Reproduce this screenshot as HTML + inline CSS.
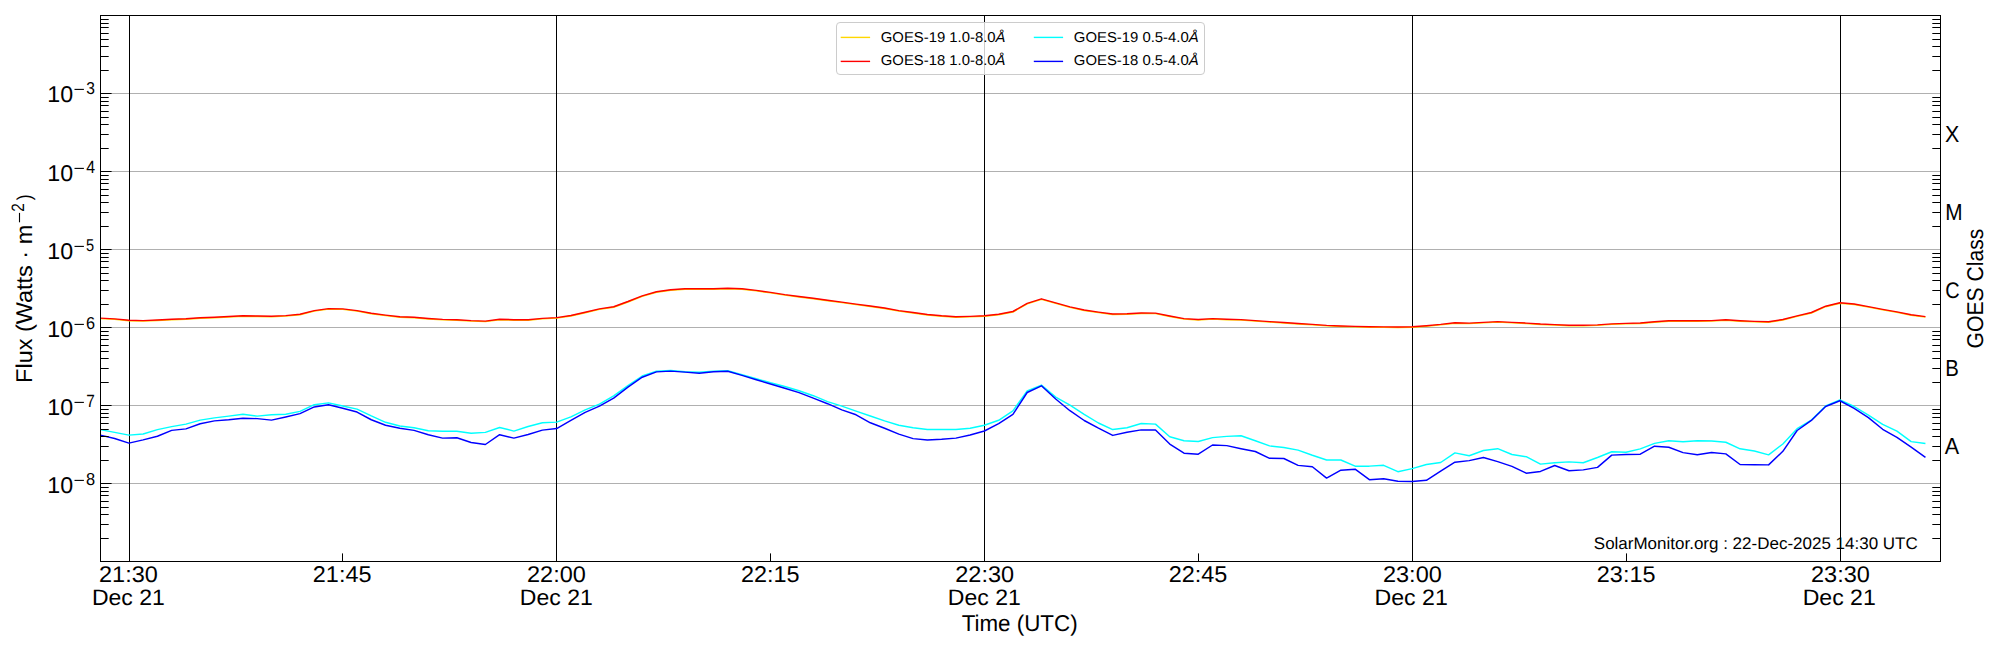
<!DOCTYPE html><html><head><meta charset="utf-8"><style>html,body{margin:0;padding:0;background:#fff;overflow:hidden;}svg{display:block;}text{font-family:"Liberation Sans",sans-serif;fill:#000;text-rendering:geometricPrecision;}</style></head><body>
<svg width="2000" height="650" viewBox="0 0 2000 650">
<rect width="2000" height="650" fill="#fff"/>
<line x1="100" y1="93.5" x2="1940" y2="93.5" stroke="#b0b0b0" stroke-width="1"/>
<line x1="100" y1="171.5" x2="1940" y2="171.5" stroke="#b0b0b0" stroke-width="1"/>
<line x1="100" y1="249.5" x2="1940" y2="249.5" stroke="#b0b0b0" stroke-width="1"/>
<line x1="100" y1="327.5" x2="1940" y2="327.5" stroke="#b0b0b0" stroke-width="1"/>
<line x1="100" y1="405.5" x2="1940" y2="405.5" stroke="#b0b0b0" stroke-width="1"/>
<line x1="100" y1="483.5" x2="1940" y2="483.5" stroke="#b0b0b0" stroke-width="1"/>
<line x1="129.5" y1="15" x2="129.5" y2="562" stroke="#000" stroke-width="1"/>
<line x1="556.5" y1="15" x2="556.5" y2="562" stroke="#000" stroke-width="1"/>
<line x1="984.5" y1="15" x2="984.5" y2="562" stroke="#000" stroke-width="1"/>
<line x1="1412.5" y1="15" x2="1412.5" y2="562" stroke="#000" stroke-width="1"/>
<line x1="1840.5" y1="15" x2="1840.5" y2="562" stroke="#000" stroke-width="1"/>
<path d="M100.38,318.60 L114.64,319.40 L128.90,320.80 L143.16,321.10 L157.42,320.55 L171.67,319.70 L185.93,319.20 L200.19,318.30 L214.45,317.80 L228.71,317.00 L242.97,316.25 L257.22,316.50 L271.48,316.70 L285.74,316.10 L300.00,314.80 L314.26,311.10 L328.52,309.10 L342.77,309.40 L357.03,311.10 L371.29,313.70 L385.55,315.60 L399.81,317.20 L414.07,317.80 L428.32,319.00 L442.58,319.90 L456.84,320.20 L471.10,321.10 L485.36,321.60 L499.62,319.80 L513.87,320.20 L528.13,320.20 L542.39,318.90 L556.65,318.10 L570.91,316.00 L585.17,312.75 L599.42,309.40 L613.68,307.20 L627.94,302.00 L642.20,296.40 L656.46,292.20 L670.72,290.25 L684.97,289.30 L699.23,289.30 L713.49,289.30 L727.75,288.70 L742.01,289.30 L756.27,290.90 L770.52,292.90 L784.78,295.10 L799.04,296.93 L813.30,298.70 L827.56,300.70 L841.81,302.60 L856.07,304.60 L870.33,306.50 L884.59,308.50 L898.85,311.10 L913.11,313.00 L927.36,315.00 L941.62,316.30 L955.88,317.20 L970.14,316.90 L984.40,316.30 L998.66,314.70 L1012.91,312.00 L1027.17,303.90 L1041.43,299.35 L1055.69,303.40 L1069.95,307.40 L1084.21,310.50 L1098.46,312.60 L1112.72,314.55 L1126.98,314.30 L1141.24,313.50 L1155.50,313.65 L1169.76,316.50 L1184.01,319.10 L1198.27,320.00 L1212.53,319.10 L1226.79,319.75 L1241.05,320.10 L1255.31,321.10 L1269.56,322.10 L1283.82,323.00 L1298.08,323.95 L1312.34,324.90 L1326.60,325.90 L1340.86,326.50 L1355.11,326.90 L1369.37,327.20 L1383.63,327.40 L1397.89,327.40 L1412.15,327.20 L1426.41,326.20 L1440.66,324.90 L1454.92,323.25 L1469.18,323.60 L1483.44,322.90 L1497.70,322.10 L1511.96,322.90 L1526.21,323.60 L1540.47,324.55 L1554.73,325.10 L1568.99,325.70 L1583.25,325.70 L1597.50,325.40 L1611.76,324.40 L1626.02,323.85 L1640.28,323.50 L1654.54,322.20 L1668.80,321.20 L1683.05,321.20 L1697.31,321.20 L1711.57,321.10 L1725.83,320.20 L1740.09,321.20 L1754.35,321.90 L1768.60,322.30 L1782.86,319.95 L1797.12,316.40 L1811.38,313.00 L1825.64,306.70 L1839.90,303.25 L1854.15,304.50 L1868.41,307.10 L1882.67,309.90 L1896.93,312.40 L1911.19,315.30 L1925.45,317.10" fill="none" stroke="#ffd700" stroke-width="1.45" stroke-linejoin="round"/>
<path d="M100.38,318.10 L114.64,318.90 L128.90,320.30 L143.16,320.60 L157.42,320.05 L171.67,319.20 L185.93,318.70 L200.19,317.80 L214.45,317.30 L228.71,316.50 L242.97,315.75 L257.22,316.00 L271.48,316.20 L285.74,315.60 L300.00,314.30 L314.26,310.60 L328.52,308.60 L342.77,308.90 L357.03,310.60 L371.29,313.20 L385.55,315.10 L399.81,316.70 L414.07,317.30 L428.32,318.50 L442.58,319.40 L456.84,319.70 L471.10,320.60 L485.36,321.10 L499.62,319.30 L513.87,319.70 L528.13,319.70 L542.39,318.40 L556.65,317.60 L570.91,315.50 L585.17,312.25 L599.42,308.90 L613.68,306.70 L627.94,301.50 L642.20,295.90 L656.46,291.70 L670.72,289.75 L684.97,288.80 L699.23,288.80 L713.49,288.80 L727.75,288.20 L742.01,288.80 L756.27,290.40 L770.52,292.40 L784.78,294.60 L799.04,296.43 L813.30,298.20 L827.56,300.20 L841.81,302.10 L856.07,304.10 L870.33,306.00 L884.59,308.00 L898.85,310.60 L913.11,312.50 L927.36,314.50 L941.62,315.80 L955.88,316.70 L970.14,316.40 L984.40,315.80 L998.66,314.20 L1012.91,311.50 L1027.17,303.40 L1041.43,298.85 L1055.69,302.90 L1069.95,306.90 L1084.21,310.00 L1098.46,312.10 L1112.72,314.05 L1126.98,313.80 L1141.24,313.00 L1155.50,313.15 L1169.76,316.00 L1184.01,318.60 L1198.27,319.50 L1212.53,318.60 L1226.79,319.25 L1241.05,319.60 L1255.31,320.60 L1269.56,321.60 L1283.82,322.50 L1298.08,323.45 L1312.34,324.40 L1326.60,325.40 L1340.86,326.00 L1355.11,326.40 L1369.37,326.70 L1383.63,326.90 L1397.89,326.90 L1412.15,326.70 L1426.41,325.70 L1440.66,324.40 L1454.92,322.75 L1469.18,323.10 L1483.44,322.40 L1497.70,321.60 L1511.96,322.40 L1526.21,323.10 L1540.47,324.05 L1554.73,324.60 L1568.99,325.20 L1583.25,325.20 L1597.50,324.90 L1611.76,323.90 L1626.02,323.35 L1640.28,323.00 L1654.54,321.70 L1668.80,320.70 L1683.05,320.70 L1697.31,320.70 L1711.57,320.60 L1725.83,319.70 L1740.09,320.70 L1754.35,321.40 L1768.60,321.80 L1782.86,319.45 L1797.12,315.90 L1811.38,312.50 L1825.64,306.20 L1839.90,302.75 L1854.15,304.00 L1868.41,306.60 L1882.67,309.40 L1896.93,311.90 L1911.19,314.80 L1925.45,316.60" fill="none" stroke="#ff0000" stroke-width="1.45" stroke-linejoin="round"/>
<path d="M100.38,429.65 L114.64,432.40 L128.90,435.15 L143.16,434.05 L157.42,429.65 L171.67,426.60 L185.93,424.15 L200.19,420.10 L214.45,417.90 L228.71,416.10 L242.97,414.25 L257.22,416.10 L271.48,414.80 L285.74,414.25 L300.00,411.40 L314.26,404.70 L328.52,402.90 L342.77,406.00 L357.03,409.10 L371.29,415.90 L385.55,422.30 L399.81,426.00 L414.07,427.80 L428.32,430.75 L442.58,431.30 L456.84,431.30 L471.10,433.20 L485.36,432.40 L499.62,427.45 L513.87,431.10 L528.13,426.50 L542.39,422.80 L556.65,422.15 L570.91,416.90 L585.17,409.80 L599.42,404.10 L613.68,395.90 L627.94,385.60 L642.20,376.00 L656.46,371.30 L670.72,370.50 L684.97,371.70 L699.23,372.30 L713.49,371.10 L727.75,370.80 L742.01,374.80 L756.27,378.70 L770.52,382.80 L784.78,386.50 L799.04,390.80 L813.30,395.70 L827.56,401.60 L841.81,406.15 L856.07,411.10 L870.33,416.00 L884.59,420.90 L898.85,425.20 L913.11,427.70 L927.36,429.50 L941.62,429.50 L955.88,429.50 L970.14,428.20 L984.40,425.20 L998.66,420.30 L1012.91,410.90 L1027.17,391.00 L1041.43,385.10 L1055.69,397.15 L1069.95,405.15 L1084.21,414.40 L1098.46,423.00 L1112.72,429.55 L1126.98,427.80 L1141.24,423.50 L1155.50,424.10 L1169.76,436.75 L1184.01,440.70 L1198.27,441.55 L1212.53,437.60 L1226.79,436.40 L1241.05,435.80 L1255.31,440.70 L1269.56,445.90 L1283.82,447.50 L1298.08,450.10 L1312.34,455.30 L1326.60,460.00 L1340.86,460.00 L1355.11,466.15 L1369.37,466.15 L1383.63,465.30 L1397.89,471.70 L1412.15,468.60 L1426.41,464.55 L1440.66,462.50 L1454.92,452.90 L1469.18,455.70 L1483.44,450.50 L1497.70,448.70 L1511.96,454.50 L1526.21,456.70 L1540.47,464.10 L1554.73,462.80 L1568.99,461.85 L1583.25,462.70 L1597.50,457.50 L1611.76,451.75 L1626.02,452.25 L1640.28,448.90 L1654.54,443.40 L1668.80,440.70 L1683.05,441.80 L1697.31,440.70 L1711.57,441.02 L1725.83,442.25 L1740.09,448.80 L1754.35,451.00 L1768.60,454.85 L1782.86,443.98 L1797.12,428.70 L1811.38,420.10 L1825.64,405.90 L1839.90,400.00 L1854.15,406.50 L1868.41,415.15 L1882.67,424.40 L1896.93,431.15 L1911.19,441.60 L1925.45,443.50" fill="none" stroke="#00ffff" stroke-width="1.45" stroke-linejoin="round"/>
<path d="M100.38,435.15 L114.64,438.45 L128.90,443.10 L143.16,439.90 L157.42,436.25 L171.67,430.40 L185.93,428.90 L200.19,423.80 L214.45,420.85 L228.71,419.75 L242.97,418.30 L257.22,418.65 L271.48,420.10 L285.74,417.00 L300.00,413.60 L314.26,406.93 L328.52,404.70 L342.77,408.20 L357.03,412.05 L371.29,419.75 L385.55,425.25 L399.81,428.20 L414.07,430.40 L428.32,434.80 L442.58,438.10 L456.84,437.70 L471.10,442.50 L485.36,444.50 L499.62,434.70 L513.87,438.12 L528.13,434.50 L542.39,430.15 L556.65,428.55 L570.91,420.30 L585.17,412.30 L599.42,406.15 L613.68,398.15 L627.94,387.10 L642.20,377.20 L656.46,371.90 L670.72,371.10 L684.97,372.10 L699.23,373.20 L713.49,371.80 L727.75,371.30 L742.01,375.40 L756.27,379.70 L770.52,384.00 L784.78,388.30 L799.04,392.60 L813.30,398.15 L827.56,403.70 L841.81,409.85 L856.07,414.80 L870.33,422.80 L884.59,428.30 L898.85,434.15 L913.11,438.62 L927.36,440.00 L941.62,439.25 L955.88,438.10 L970.14,435.05 L984.40,431.00 L998.66,423.60 L1012.91,414.40 L1027.17,392.50 L1041.43,385.80 L1055.69,399.00 L1069.95,410.70 L1084.21,420.50 L1098.46,428.20 L1112.72,435.40 L1126.98,432.30 L1141.24,429.90 L1155.50,429.90 L1169.76,444.10 L1184.01,453.20 L1198.27,454.20 L1212.53,445.00 L1226.79,445.60 L1241.05,448.70 L1255.31,451.50 L1269.56,458.30 L1283.82,458.50 L1298.08,465.40 L1312.34,466.70 L1326.60,478.10 L1340.86,470.20 L1355.11,469.20 L1369.37,479.70 L1383.63,478.70 L1397.89,481.20 L1412.15,481.50 L1426.41,480.30 L1440.66,471.10 L1454.92,462.20 L1469.18,460.60 L1483.44,457.50 L1497.70,461.60 L1511.96,466.32 L1526.21,473.20 L1540.47,471.45 L1554.73,465.50 L1568.99,470.70 L1583.25,469.85 L1597.50,467.40 L1611.76,455.10 L1626.02,454.50 L1640.28,454.20 L1654.54,446.20 L1668.80,447.30 L1683.05,452.60 L1697.31,454.80 L1711.57,452.58 L1725.83,453.88 L1740.09,464.50 L1754.35,464.70 L1768.60,464.90 L1782.86,451.32 L1797.12,430.50 L1811.38,420.45 L1825.64,406.50 L1839.90,400.75 L1854.15,408.40 L1868.41,417.60 L1882.67,429.30 L1896.93,437.30 L1911.19,447.15 L1925.45,457.40" fill="none" stroke="#0000ff" stroke-width="1.45" stroke-linejoin="round"/>
<path d="M100,93.5h11.6M100,70.5h8.7M1941,70.5h-8.7M100,56.5h8.7M1941,56.5h-8.7M100,46.5h8.7M1941,46.5h-8.7M100,39.5h8.7M1941,39.5h-8.7M100,33.5h8.7M1941,33.5h-8.7M100,27.5h8.7M1941,27.5h-8.7M100,23.5h8.7M1941,23.5h-8.7M100,19.5h8.7M1941,19.5h-8.7M100,171.5h11.6M100,148.5h8.7M1941,148.5h-8.7M100,134.5h8.7M1941,134.5h-8.7M100,124.5h8.7M1941,124.5h-8.7M100,117.5h8.7M1941,117.5h-8.7M100,111.5h8.7M1941,111.5h-8.7M100,105.5h8.7M1941,105.5h-8.7M100,101.5h8.7M1941,101.5h-8.7M100,97.5h8.7M1941,97.5h-8.7M100,249.5h11.6M100,226.5h8.7M1941,226.5h-8.7M100,212.5h8.7M1941,212.5h-8.7M100,202.5h8.7M1941,202.5h-8.7M100,195.5h8.7M1941,195.5h-8.7M100,189.5h8.7M1941,189.5h-8.7M100,183.5h8.7M1941,183.5h-8.7M100,179.5h8.7M1941,179.5h-8.7M100,175.5h8.7M1941,175.5h-8.7M100,327.5h11.6M100,304.5h8.7M1941,304.5h-8.7M100,290.5h8.7M1941,290.5h-8.7M100,280.5h8.7M1941,280.5h-8.7M100,273.5h8.7M1941,273.5h-8.7M100,267.5h8.7M1941,267.5h-8.7M100,261.5h8.7M1941,261.5h-8.7M100,257.5h8.7M1941,257.5h-8.7M100,253.5h8.7M1941,253.5h-8.7M100,405.5h11.6M100,382.5h8.7M1941,382.5h-8.7M100,368.5h8.7M1941,368.5h-8.7M100,358.5h8.7M1941,358.5h-8.7M100,351.5h8.7M1941,351.5h-8.7M100,345.5h8.7M1941,345.5h-8.7M100,339.5h8.7M1941,339.5h-8.7M100,335.5h8.7M1941,335.5h-8.7M100,331.5h8.7M1941,331.5h-8.7M100,483.5h11.6M100,460.5h8.7M1941,460.5h-8.7M100,446.5h8.7M1941,446.5h-8.7M100,436.5h8.7M1941,436.5h-8.7M100,429.5h8.7M1941,429.5h-8.7M100,423.5h8.7M1941,423.5h-8.7M100,417.5h8.7M1941,417.5h-8.7M100,413.5h8.7M1941,413.5h-8.7M100,409.5h8.7M1941,409.5h-8.7M100,538.5h8.7M1941,538.5h-8.7M100,524.5h8.7M1941,524.5h-8.7M100,514.5h8.7M1941,514.5h-8.7M100,507.5h8.7M1941,507.5h-8.7M100,501.5h8.7M1941,501.5h-8.7M100,495.5h8.7M1941,495.5h-8.7M100,491.5h8.7M1941,491.5h-8.7M100,487.5h8.7M1941,487.5h-8.7M342.5,561v-7.6M770.5,561v-7.6M1198.5,561v-7.6M1626.5,561v-7.6" stroke="#000" stroke-width="1" fill="none"/>
<rect x="100.5" y="15.5" width="1840" height="546" fill="none" stroke="#000" stroke-width="1"/>
<rect x="836.5" y="22.5" width="368" height="52" rx="3.5" fill="#fff" fill-opacity="0.8" stroke="#cccccc" stroke-width="1"/>
<line x1="840.7" y1="37.4" x2="870.1" y2="37.4" stroke="#ffd700" stroke-width="1.4"/>
<line x1="840.7" y1="61.4" x2="870.1" y2="61.4" stroke="#ff0000" stroke-width="1.4"/>
<line x1="1033.8" y1="37.4" x2="1063.1" y2="37.4" stroke="#00ffff" stroke-width="1.4"/>
<line x1="1033.8" y1="61.4" x2="1063.1" y2="61.4" stroke="#0000ff" stroke-width="1.4"/>
<rect x="74.5" y="88.85" width="9.4" height="1.1" fill="#000"/>
<rect x="74.5" y="167.85" width="9.4" height="1.1" fill="#000"/>
<rect x="74.5" y="245.85" width="9.4" height="1.1" fill="#000"/>
<rect x="74.5" y="323.85" width="9.4" height="1.1" fill="#000"/>
<rect x="74.5" y="401.85" width="9.4" height="1.1" fill="#000"/>
<rect x="74.5" y="479.85" width="9.4" height="1.1" fill="#000"/>
<rect x="18.95" y="212.9" width="1.1" height="9.4" fill="#000"/>
<text transform="translate(47.24,101.85) scale(1.0192,0.9988)" font-size="22.8">10</text>
<text transform="translate(86.13,93.82) scale(0.9159,1.0177)" font-size="17.0">3</text>
<text transform="translate(47.24,180.85) scale(1.0192,0.9988)" font-size="22.8">10</text>
<text transform="translate(86.18,173.12) scale(0.9364,1.0404)" font-size="17.0">4</text>
<text transform="translate(47.24,258.85) scale(1.0192,0.9988)" font-size="22.8">10</text>
<text transform="translate(86.10,250.82) scale(0.8568,1.0117)" font-size="17.0">5</text>
<text transform="translate(47.24,336.85) scale(1.0192,0.9988)" font-size="22.8">10</text>
<text transform="translate(86.06,328.79) scale(0.9557,1.0168)" font-size="17.0">6</text>
<text transform="translate(47.24,414.85) scale(1.0192,0.9988)" font-size="22.8">10</text>
<text transform="translate(86.32,407.18) scale(0.9067,1.0422)" font-size="17.0">7</text>
<text transform="translate(47.24,492.85) scale(1.0192,0.9988)" font-size="22.8">10</text>
<text transform="translate(86.07,484.82) scale(0.9661,1.0177)" font-size="17.0">8</text>
<text transform="translate(1945.05,142.01) scale(0.9400,1.0146)" font-size="22.8">X</text>
<text transform="translate(1945.23,220.01) scale(0.9118,1.0146)" font-size="22.8">M</text>
<text transform="translate(1945.18,297.81) scale(0.8760,0.9889)" font-size="22.8">C</text>
<text transform="translate(1945.27,376.00) scale(0.8929,1.0139)" font-size="22.8">B</text>
<text transform="translate(1944.70,454.00) scale(0.9440,1.0139)" font-size="22.8">A</text>
<text transform="translate(99.04,581.95) scale(1.0299,0.9969)" font-size="22.8">21:30</text>
<text transform="translate(312.84,581.98) scale(1.0270,0.9988)" font-size="22.8">21:45</text>
<text transform="translate(527.04,581.95) scale(1.0317,0.9969)" font-size="22.8">22:00</text>
<text transform="translate(741.04,581.98) scale(1.0270,0.9988)" font-size="22.8">22:15</text>
<text transform="translate(955.24,581.95) scale(1.0317,0.9969)" font-size="22.8">22:30</text>
<text transform="translate(1168.79,581.98) scale(1.0270,0.9988)" font-size="22.8">22:45</text>
<text transform="translate(1382.94,581.95) scale(1.0317,0.9969)" font-size="22.8">23:00</text>
<text transform="translate(1596.84,581.96) scale(1.0270,0.9975)" font-size="22.8">23:15</text>
<text transform="translate(1811.04,581.95) scale(1.0317,0.9969)" font-size="22.8">23:30</text>
<text transform="translate(91.95,604.76) scale(1.0088,0.9785)" font-size="22.8">Dec 21</text>
<text transform="translate(519.85,604.76) scale(1.0088,0.9785)" font-size="22.8">Dec 21</text>
<text transform="translate(947.85,604.76) scale(1.0102,0.9785)" font-size="22.8">Dec 21</text>
<text transform="translate(1374.54,604.76) scale(1.0146,0.9785)" font-size="22.8">Dec 21</text>
<text transform="translate(1802.65,604.76) scale(1.0117,0.9785)" font-size="22.8">Dec 21</text>
<text transform="translate(961.67,630.60) scale(0.9812,1.0000)" font-size="22.8">Time (UTC)</text>
<text transform="translate(1593.81,548.80) scale(1.0124,1.0000)" font-size="16.8">SolarMonitor.org : 22-Dec-2025 14:30 UTC</text>
<text transform="translate(880.82,41.80) scale(1.0421,1.0000)" font-size="14.25">GOES-19 1.0-8.0<tspan font-style="italic">Å</tspan></text>
<text transform="translate(880.82,64.70) scale(1.0421,1.0000)" font-size="14.25">GOES-18 1.0-8.0<tspan font-style="italic">Å</tspan></text>
<text transform="translate(1073.82,41.80) scale(1.0438,1.0000)" font-size="14.25">GOES-19 0.5-4.0<tspan font-style="italic">Å</tspan></text>
<text transform="translate(1073.82,64.70) scale(1.0438,1.0000)" font-size="14.25">GOES-18 0.5-4.0<tspan font-style="italic">Å</tspan></text>
<text transform="translate(1983.00,348.47) rotate(-90) scale(0.9266,1.0000)" font-size="22.8">GOES Class</text>
<text transform="translate(32.00,382.88) rotate(-90) scale(1.0286,1.0000)" font-size="22.8">Flux (Watts · m</text>
<text transform="translate(24.10,211.63) rotate(-90) scale(0.9045,1.0495)" font-size="17.0">2</text>
<text transform="translate(30.62,200.25) rotate(-90) scale(0.7557,0.8804)" font-size="22.8">)</text>
</svg></body></html>
